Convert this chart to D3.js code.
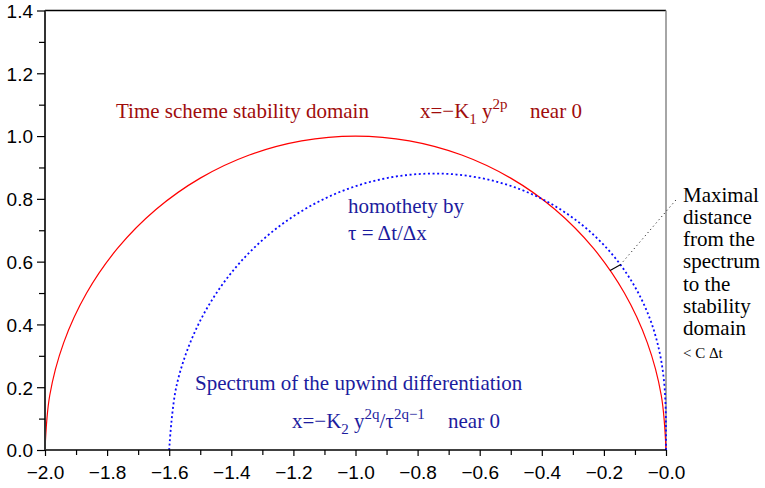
<!DOCTYPE html>
<html><head><meta charset="utf-8">
<script src="https://cdn.jsdelivr.net/npm/d3@7"></script>
<style>body{margin:0;background:#fff}svg{display:block}</style>
</head><body>
<svg id="c" width="765" height="488"></svg>
<script>
// Stability domain (red semicircle) points
const redX = [0, -0.0152, -0.0603, -0.1340, -0.2340, -0.3572, -0.5, -0.6580, -0.8264, -1, -1.1736, -1.3420, -1.5, -1.6428, -1.7660, -1.8660, -1.9397, -1.9848, -2];
const redY = [0, 0.1736, 0.3420, 0.5, 0.6428, 0.7660, 0.8660, 0.9397, 0.9848, 1, 0.9848, 0.9397, 0.8660, 0.7660, 0.6428, 0.5, 0.3420, 0.1736, 0];
// Spectrum of upwind differentiation (blue dotted) points
const blueX = [0, -0.0001, -0.0015, -0.0072, -0.0219, -0.0510, -0.1, -0.1732, -0.2732, -0.4, -0.5509, -0.7204, -0.9, -1.0795, -1.2475, -1.3928, -1.5050, -1.5758, -1.6];
const blueY = [0, 0.0705, 0.1450, 0.2268, 0.3173, 0.4158, 0.5196, 0.6232, 0.7194, 0.8, 0.8562, 0.8803, 0.866, 0.8098, 0.7112, 0.5732, 0.4022, 0.2073, 0];
// Annotation: maximal distance segment and leader
const segX = [-0.180, -0.147];
const segY = [0.572, 0.590];
const leadX = [-0.147, 0.035];
const leadY = [0.590, 0.800];
const xTicks = [-2.0, -1.9, -1.8, -1.7, -1.6, -1.5, -1.4, -1.3, -1.2, -1.1, -1.0, -0.9, -0.8, -0.7, -0.6, -0.5, -0.4, -0.3, -0.2, -0.1, 0.0];
const xLabels = ["−2.0", "−1.8", "−1.6", "−1.4", "−1.2", "−1.0", "−0.8", "−0.6", "−0.4", "−0.2", "−0.0"];
const yTicks = [0, 0.1, 0.2, 0.3, 0.4, 0.5, 0.6, 0.7, 0.8, 0.9, 1.0, 1.1, 1.2, 1.3, 1.4];
const yLabels = ["0.0", "0.2", "0.4", "0.6", "0.8", "1.0", "1.2", "1.4"];
const noteLines = ["Maximal", "distance", "from the", "spectrum", "to the", "stability", "domain"];

const svg = d3.select("#c");
const L = 45, R = 666, T = 10.5, B = 450;
const x = d3.scaleLinear().domain([-2, 0]).range([L, R]);
const y = d3.scaleLinear().domain([0, 1.4]).range([B, T]);
const RED_T = "#a00c0c", BLUE_T = "#1c1c9e";
const sans = "'Liberation Sans', Arial, Helvetica, sans-serif";
const serif = "'Liberation Serif', 'Times New Roman', serif";

// frame
svg.append("line").attr("x1", L).attr("x2", R).attr("y1", T).attr("y2", T).attr("stroke", "#000").attr("stroke-width", 1.5);
svg.append("line").attr("x1", R).attr("x2", R).attr("y1", T).attr("y2", B).attr("stroke", "#888").attr("stroke-width", 1.5);

// curves
const line = d3.line().x(d => x(d[0])).y(d => y(d[1])).curve(d3.curveCatmullRom.alpha(0.5));
svg.append("path").datum(redX.map((v, i) => [v, redY[i]])).attr("d", line)
  .attr("fill", "none").attr("stroke", "#ff0000").attr("stroke-width", 1.2);
svg.append("path").datum(blueX.map((v, i) => [v, blueY[i]])).attr("d", line)
  .attr("fill", "none").attr("stroke", "#0a0aff").attr("stroke-width", 1.8).attr("stroke-dasharray", "2,2.6");

// annotation
const sline = d3.line().x(d => x(d[0])).y(d => y(d[1]));
svg.append("path").datum(segX.map((v, i) => [v, segY[i]])).attr("d", sline).attr("stroke", "#000").attr("stroke-width", 1.2);
svg.append("path").datum(leadX.map((v, i) => [v, leadY[i]])).attr("d", sline).attr("stroke", "#000").attr("stroke-width", 1).attr("stroke-dasharray", "1,3.2");

// axes
const xa = svg.append("g").attr("transform", `translate(0,${B})`)
  .call(d3.axisBottom(x).tickValues(xTicks).tickSize(6).tickFormat(d => {
    const k = Math.round((d + 2) * 10);
    return k % 2 === 0 ? xLabels[k / 2] : "";
  }));
xa.select(".domain").attr("stroke", "#000").attr("stroke-width", 1.5);
xa.selectAll(".tick line").attr("stroke", "#000").attr("stroke-width", 1.2)
  .attr("y2", d => (Math.round((d + 2) * 10) % 2 === 0 ? 6 : 5));
xa.selectAll("text").attr("font-family", sans).attr("font-size", 19).attr("fill", "#000").attr("dy", "0").attr("y", 29);

const ya = svg.append("g").attr("transform", `translate(${L},0)`)
  .call(d3.axisLeft(y).tickValues(yTicks).tickSize(7).tickFormat(d => {
    const k = Math.round(d * 10);
    return k % 2 === 0 ? yLabels[k / 2] : "";
  }));
ya.select(".domain").attr("stroke", "#333").attr("stroke-width", 2);
ya.selectAll(".tick line").attr("stroke", "#000").attr("stroke-width", 1.2)
  .attr("x2", d => (Math.round(d * 10) % 2 === 0 ? -8 : -6));
ya.selectAll("text").attr("font-family", sans).attr("font-size", 19).attr("fill", "#000").attr("x", -12).attr("dy", "0.36em");
svg.selectAll(".domain").attr("d", function () { return d3.select(this).attr("d").replace(/M[^VH]*?V6|M-6/, m => m); });
xa.select(".domain").attr("d", `M${L},0H${R}`);
ya.select(".domain").attr("d", `M0,${T}V${B}`);

// texts
function addText(tx, ty, color, size, parts) {
  const t = svg.append("text").attr("x", tx).attr("y", ty).attr("fill", color)
    .attr("font-family", serif).attr("font-size", size);
  let cur = 0;
  parts.forEach(p => {
    const s = t.append("tspan").text(p.t);
    const shift = p.s || 0;
    s.attr("dy", shift - cur); cur = shift;
    if (p.fs) s.attr("font-size", p.fs);
    if (p.x !== undefined) s.attr("x", p.x);
  });
  return t;
}
addText(116, 118, RED_T, 21, [{t: "Time scheme stability domain"}]);
addText(420, 118, RED_T, 21, [{t: "x=−K"}, {t: "1", s: 6, fs: 15}, {t: " y"}, {t: "2p", s: -9, fs: 15}, {t: "near 0", x: 530}]);
addText(348, 213, BLUE_T, 21, [{t: "homothety by"}]);
addText(348, 240, BLUE_T, 21, [{t: "τ = Δt/Δx"}]);
addText(195, 390, BLUE_T, 21, [{t: "Spectrum of the upwind differentiation"}]);
addText(292, 428, BLUE_T, 21, [{t: "x=−K"}, {t: "2", s: 6, fs: 15}, {t: " y"}, {t: "2q", s: -9, fs: 15}, {t: "/τ", s: 0}, {t: "2q−1", s: -9, fs: 15}, {t: "near 0", x: 448}]);

noteLines.forEach((s, i) => {
  svg.append("text").attr("x", 683).attr("y", 201.5 + i * 22.3).attr("font-family", serif)
    .attr("font-size", 21).attr("fill", "#000").text(s);
});
svg.append("text").attr("x", 683).attr("y", 358).attr("font-family", serif).attr("font-size", 15).attr("fill", "#000").text("< C Δt");
</script>
</body></html>
